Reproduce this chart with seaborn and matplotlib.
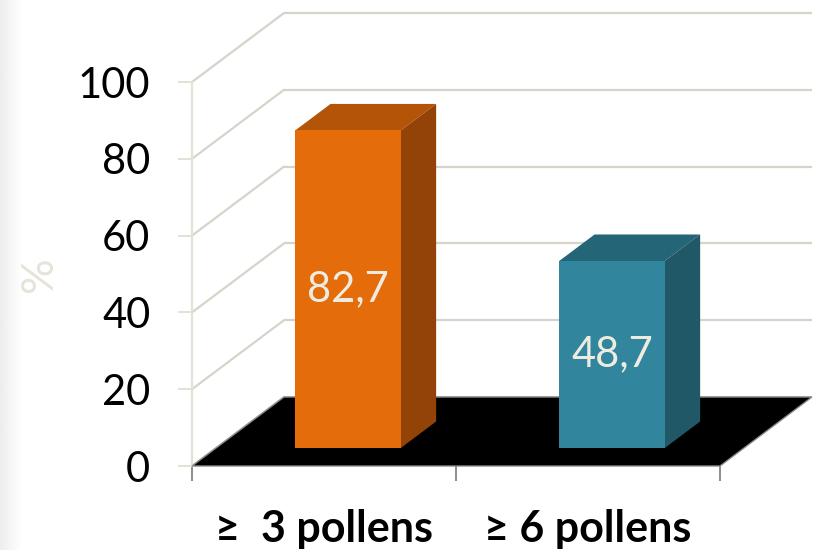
import numpy as np
import matplotlib
matplotlib.use("Agg")
import matplotlib.pyplot as plt
from matplotlib.patches import Polygon
import seaborn as sns

categories = ["\u2265  3 pollens", "\u2265 6 pollens"]
values = [82.7, 48.7]
value_labels = ["82,7", "48,7"]
y_ticks = [0, 20, 40, 60, 80, 100]

front_colors = ["#E46C0A", "#31859C"]
top_colors = ["#B35408", "#246677"]
side_colors = ["#934307", "#215868"]

sns.set_theme(style="white")
plt.rcParams["font.family"] = ["Lato", "DejaVu Sans"]

fig = plt.figure(figsize=(8.15, 5.5), dpi=100)
W, H = 815, 550

# faint grey fade along the left edge of the slide
bg = fig.add_axes([0, 0, 22 / W, 1], zorder=-5)
grad = np.linspace(0.93, 1.0, 64)[None, :]
bg.imshow(grad, cmap="gray", vmin=0, vmax=1, aspect="auto", extent=[0, 1, 0, 1])
bg.axis("off")

ax = fig.add_axes([192 / W, 84 / H, 528 / W, 384 / H])

df = {"cat": categories, "val": values}
sns.barplot(x="cat", y="val", hue="cat", data=df, palette=front_colors,
            width=0.4, legend=False, ax=ax, saturation=1, zorder=3)
ax.set_xlim(-0.5, 1.5)
ax.set_ylim(0, 100)
bars = list(ax.patches)

# pixels per data unit, to express the 3D depth in data coordinates
p0 = ax.transData.transform((0, 0))
p1 = ax.transData.transform((1, 1))
sx, sy = p1 - p0
depth_x, depth_y = 92 / sx, 69 / sy
bar_front, bar_back = 0.26, 0.645
xmin, xmax = -0.5, 1.5

grid_col = "#D6D4CA"
wall_col = "#E4E2D7"

# back wall gridlines and side wall diagonals
for t in y_ticks:
    ax.plot([xmin + depth_x, xmax + depth_x], [t + depth_y, t + depth_y],
            color=grid_col, lw=1.6, clip_on=False, zorder=0.5, solid_capstyle="butt")
    ax.plot([xmin, xmin + depth_x], [t, t + depth_y],
            color=grid_col, lw=1.6, clip_on=False, zorder=0.5)

# black floor
floor = Polygon([(xmin, 0), (xmax, 0), (xmax + depth_x, depth_y), (xmin + depth_x, depth_y)],
                closed=True, facecolor="black", edgecolor="#8A8A8A", lw=1.0,
                clip_on=False, zorder=1)
ax.add_patch(floor)

# extrude the bars into boxes
fx, fy = bar_front * depth_x, bar_front * depth_y
bx, by = bar_back * depth_x, bar_back * depth_y
for i, p in enumerate(bars):
    x0, w, h = p.get_x(), p.get_width(), p.get_height()
    p.set_x(x0 + fx)
    p.set_y(fy)
    p.set_edgecolor("none")
    p.set_clip_on(False)
    p.set_zorder(4)
    x1 = x0 + w
    top = Polygon([(x0 + fx, h + fy), (x1 + fx, h + fy), (x1 + bx, h + by), (x0 + bx, h + by)],
                  closed=True, facecolor=top_colors[i], edgecolor="none", clip_on=False, zorder=3)
    side = Polygon([(x1 + fx, fy), (x1 + fx, h + fy), (x1 + bx, h + by), (x1 + bx, by)],
                   closed=True, facecolor=side_colors[i], edgecolor="none", clip_on=False, zorder=3)
    ax.add_patch(top)
    ax.add_patch(side)
    ax.text(x0 + w / 2 + fx, h / 2 + fy, value_labels[i], ha="center", va="center",
            fontsize=30, color="#EEECE1", zorder=6)

# axes styling
for s in ["top", "right", "bottom"]:
    ax.spines[s].set_visible(False)
ax.spines["left"].set_color(wall_col)
ax.spines["left"].set_linewidth(1.6)
ax.spines["left"].set_zorder(0.6)

ax.set_yticks(y_ticks)
ax.set_yticklabels([str(t) for t in y_ticks], fontsize=30, color="black")
ax.tick_params(axis="y", length=10, width=1.4, color=wall_col, pad=20, left=True)

ax.set_xticks([0, 1])
ax.set_xticklabels(categories, fontsize=31, fontweight="bold", color="black")
ax.tick_params(axis="x", length=0, pad=31)
ax.set_xticks([-0.5, 0.5, 1.5], minor=True)
ax.tick_params(axis="x", which="minor", length=11, width=1.4, color="#8C8C8C", bottom=True)

ax.set_xlabel("")
ax.set_ylabel("%", fontsize=32, color="#E6E4D9")
ax.yaxis.set_label_coords(-0.25, 0.5)
ax.patch.set_alpha(0)

fig.savefig("out.png", dpi=100)
